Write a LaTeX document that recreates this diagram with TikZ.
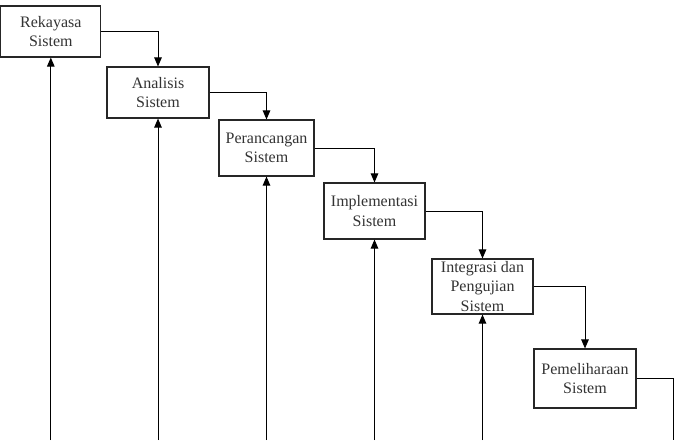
\documentclass[tikz,border=0pt]{standalone}
\usepackage{fontspec}
\setmainfont{Liberation Serif}
\usetikzlibrary{arrows.meta}
\begin{document}
\begin{tikzpicture}[x=1pt,y=-1pt,
  stagebox/.style={draw=black!85, line width=1.1pt, inner sep=0pt, align=center,
    font=\fontsize{16}{19.5}\selectfont, text=black!80},
  flow/.style={line width=1pt, -{Triangle[width=7.5pt,length=9pt]}},
  plain/.style={line width=1pt}]
\useasboundingbox (0,0) rectangle (686,440);
\node[stagebox, minimum width=100pt, minimum height=51pt] (s1) at (50.8,31.5) {Rekayasa\\Sistem};
\node[stagebox, minimum width=102pt, minimum height=51pt] (s2) at (158,92.5) {Analisis\\Sistem};
\node[stagebox, minimum width=95pt, minimum height=56pt] (s3) at (266.5,148) {Perancangan\\Sistem};
\node[stagebox, minimum width=101pt, minimum height=56pt] (s4) at (374.5,211) {Implementasi\\Sistem};
\node[stagebox, minimum width=101pt, minimum height=55pt] (s5) at (482.5,286.5) {Integrasi dan\\Pengujian\\Sistem};
\node[stagebox, minimum width=102pt, minimum height=59pt] (s6) at (585,378.5) {Pemeliharaan\\Sistem};
\draw[flow] (s1.east) -| (s2.north);
\draw[flow] (s2.east) -| (s3.north);
\draw[flow] (s3.east) -| (s4.north);
\draw[flow] (s4.east) -| (s5.north);
\draw[flow] (s5.east) -| (s6.north);
\coordinate (r1) at (673,378.5);
\coordinate (r2) at (673,440);
\draw[plain] (s6.east) -- (r1) -- (r2);
\coordinate (b1) at (50.8,440);
\coordinate (b2) at (158,440);
\coordinate (b3) at (266.5,440);
\coordinate (b4) at (374.5,440);
\coordinate (b5) at (482.5,440);
\draw[flow] (b1) -- (s1.south);
\draw[flow] (b2) -- (s2.south);
\draw[flow] (b3) -- (s3.south);
\draw[flow] (b4) -- (s4.south);
\draw[flow] (b5) -- (s5.south);
\end{tikzpicture}
\end{document}
